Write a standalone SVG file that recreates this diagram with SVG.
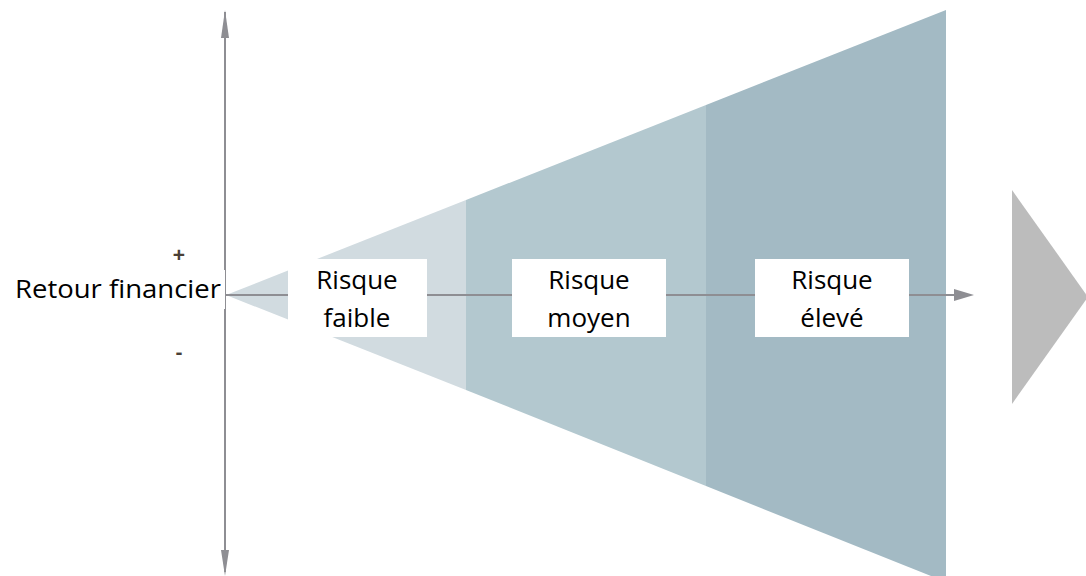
<svg xmlns="http://www.w3.org/2000/svg" width="1086" height="576" viewBox="0 0 1086 576">
<style>
.lbl{font-family:"Open Sans","Noto Sans","Liberation Sans",sans-serif;font-size:26px;fill:#000;text-anchor:middle}
.box{fill:#fff}
.axis{stroke:#8e8e93;stroke-width:2;fill:none}
.sign{font-family:"Liberation Sans",sans-serif;font-size:21px;font-weight:bold;fill:#4a3f36;text-anchor:middle}
</style>
<rect width="1086" height="576" fill="#fff"/>
<g id="cone">
<polygon id="band-low" points="226,295 466,200 466,390" fill="#d1dbe0"/>
<polygon id="band-mid" points="466,200 706,105 706,486 466,390" fill="#b3c8cf"/>
<polygon id="band-high" points="706,105 946,10 946,582 706,486" fill="#a3bac4"/>
</g>
<polygon id="next-arrow" points="1012,190 1088,297 1012,404" fill="#bcbcbc"/>
<g id="connectors">
<line class="axis" x1="225" y1="295" x2="225" y2="12"/>
<path d="M221,38 L225,10 L229,38 Z" fill="#8e8e93"/>
<line class="axis" x1="225" y1="295" x2="225" y2="572"/>
<path d="M221,550 L225,576 L229,550 Z" fill="#8e8e93"/>
<line class="axis" x1="226" y1="295" x2="958" y2="295"/>
<path d="M954,289 L974,295 L954,301 Z" fill="#8e8e93"/>
</g>
<text class="sign" x="179" y="262">+</text>
<text class="sign" x="179" y="359">-</text>
<g id="retour">
<rect class="box" x="0" y="270" width="225" height="39"/>
<text class="lbl" x="118" y="298" textLength="206" lengthAdjust="spacingAndGlyphs">Retour financier</text>
</g>
<g id="risque-faible">
<rect class="box" x="288" y="259" width="139" height="78"/>
<text class="lbl" x="357" y="289">Risque</text>
<text class="lbl" x="357" y="327">faible</text>
</g>
<g id="risque-moyen">
<rect class="box" x="512" y="259" width="154" height="78"/>
<text class="lbl" x="589" y="289">Risque</text>
<text class="lbl" x="589" y="327">moyen</text>
</g>
<g id="risque-eleve">
<rect class="box" x="755" y="259" width="154" height="78"/>
<text class="lbl" x="832" y="289">Risque</text>
<text class="lbl" x="832" y="327">élevé</text>
</g>
</svg>
